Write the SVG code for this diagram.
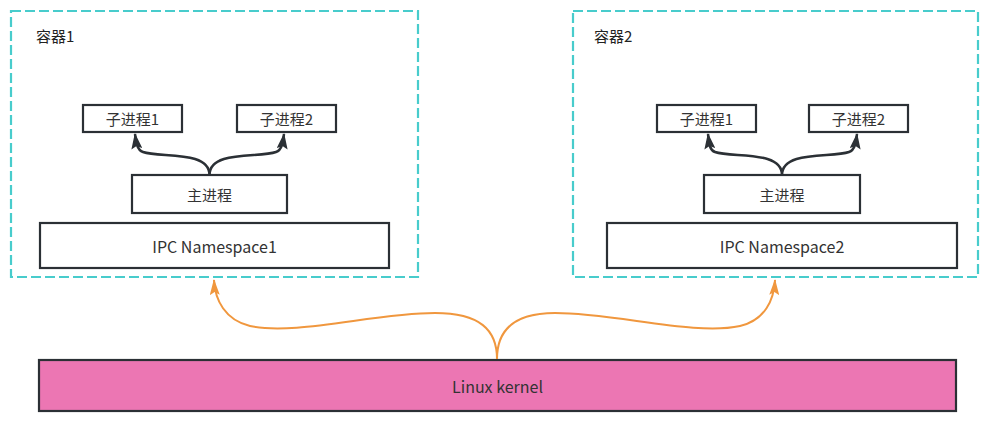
<svg xmlns="http://www.w3.org/2000/svg" width="990" height="426" viewBox="0 0 990 426">
<style>
.container{fill:none;stroke:#48cccc;stroke-width:2.2;stroke-dasharray:10 4}
.box{fill:#fff;stroke:#2b3035;stroke-width:2.2}
.kernel{fill:#ec76b3;stroke:#2b3035;stroke-width:2.2}
.t{font-family:"Noto Sans CJK SC","Liberation Sans",sans-serif;font-size:15px;fill:#333;text-anchor:middle;dominant-baseline:central}
.tl{font-size:16px}
.lbl{font-family:"Noto Sans CJK SC","Liberation Sans",sans-serif;font-size:15px;fill:#222}
.dk{fill:none;stroke:#2b3035;stroke-width:2.5}
.or{fill:none;stroke:#f0973e;stroke-width:2}
</style>
<defs>
<marker id="ad" viewBox="0 0 16 11" refX="15" refY="5.5" markerWidth="16" markerHeight="11" orient="auto" markerUnits="userSpaceOnUse">
<path d="M0,0 L16,5.5 L0,11 L3,5.5 z" fill="#2b3035"/>
</marker>
<marker id="ao" viewBox="0 0 16 10" refX="15" refY="5" markerWidth="16" markerHeight="10" orient="auto" markerUnits="userSpaceOnUse">
<path d="M0,0 L16,5 L0,10 L3,5 z" fill="#f0973e"/>
</marker>
</defs>
<g id="container1">
<rect class="container" x="11" y="11" width="407" height="266"/>
<text class="lbl" x="36" y="42">容器1</text>
</g>
<g id="container2">
<rect class="container" x="573" y="11" width="405" height="266"/>
<text class="lbl" x="594" y="42">容器2</text>
</g>
<g id="c1-child1"><rect class="box" x="83" y="105" width="99" height="27"/><text class="t" x="132.5" y="118.5">子进程1</text></g>
<g id="c1-child2"><rect class="box" x="237" y="105" width="99" height="27"/><text class="t" x="286.5" y="118.5">子进程2</text></g>
<g id="c1-main"><rect class="box" x="132" y="175" width="155" height="38"/><text class="t" x="209.5" y="194">主进程</text></g>
<g id="c1-ipc"><rect class="box" x="40" y="223" width="349" height="45"/><text class="t tl" x="214.5" y="245.5">IPC Namespace1</text></g>
<g id="c2-child1"><rect class="box" x="657" y="105" width="99" height="27"/><text class="t" x="706.5" y="118.5">子进程1</text></g>
<g id="c2-child2"><rect class="box" x="809" y="105" width="99" height="27"/><text class="t" x="858.5" y="118.5">子进程2</text></g>
<g id="c2-main"><rect class="box" x="704" y="175" width="156" height="38"/><text class="t" x="782" y="194">主进程</text></g>
<g id="c2-ipc"><rect class="box" x="607" y="223" width="350" height="45"/><text class="t tl" x="782" y="245.5">IPC Namespace2</text></g>
<g id="kernel"><rect class="kernel" x="39" y="360" width="917" height="51"/><text class="t tl" x="497.5" y="385.5">Linux kernel</text></g>
<g id="connectors">
<path class="dk" marker-end="url(#ad)" d="M209.5,175 C209.5,150 160,158 143,152 C137,150 136,142 135,134"/>
<path class="dk" marker-end="url(#ad)" d="M209.5,175 C209.5,150 259,158 276,152 C282,150 283,142 284,134"/>
<path class="dk" marker-end="url(#ad)" d="M782,175 C782,150 732,158 715,152 C709,150 709,142 708,134"/>
<path class="dk" marker-end="url(#ad)" d="M782,175 C782,150 832,158 849,152 C855,150 856,142 857,134"/>
<path class="or" marker-end="url(#ao)" d="M497,359 C497,330 480,313 435,313 C375,313 295,336 250,326 C225,320 215,300 214,280"/>
<path class="or" marker-end="url(#ao)" d="M497,359 C497,330 514,313 555,313 C615,313 695,336 740,326 C765,320 774,300 775,280"/>
</g>
</svg>
